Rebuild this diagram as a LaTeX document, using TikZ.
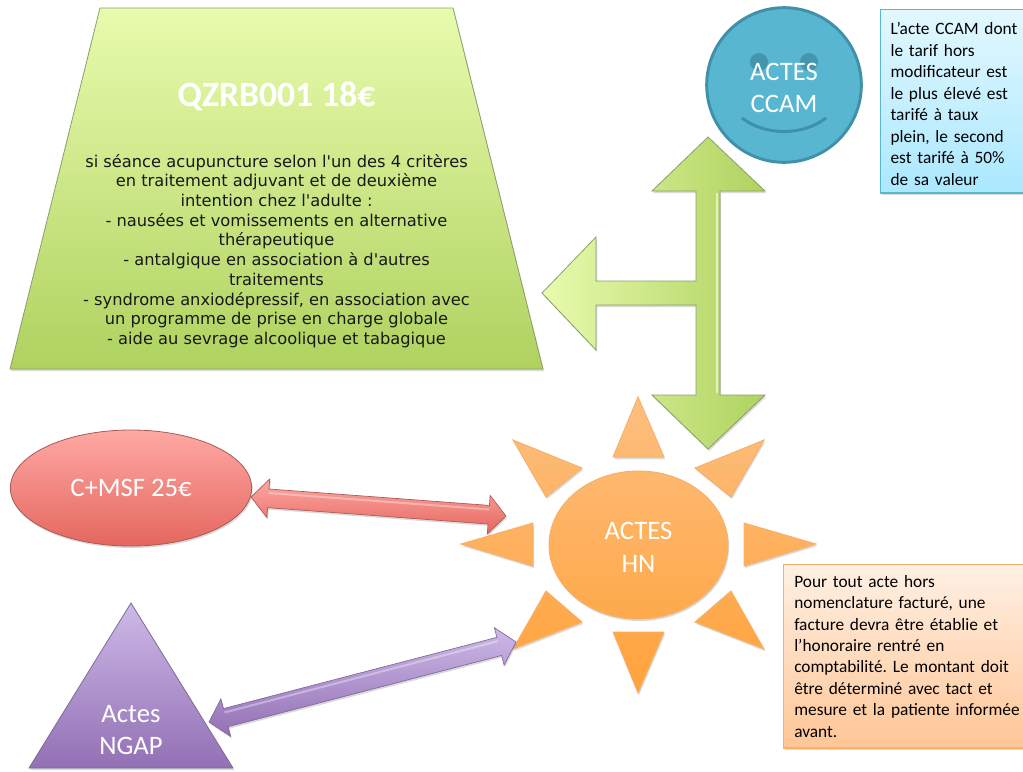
\documentclass[tikz,border=0pt]{standalone}
\usepackage{fontspec}
\setmainfont{Carlito}
\newfontfamily\verd{DejaVu Sans}
\usetikzlibrary{calc,shapes.geometric,shadows}
\definecolor{greentop}{HTML}{E8FBAE}
\definecolor{greenbot}{HTML}{AFD25F}
\definecolor{greenline}{HTML}{8A9E6A}
\definecolor{bluefill}{HTML}{58B6D1}
\definecolor{blueline}{HTML}{3F90A8}
\definecolor{notebluetop}{HTML}{E2F8FF}
\definecolor{notebluebot}{HTML}{ABE8FF}
\definecolor{suntop}{HTML}{FDBF80}
\definecolor{sunbot}{HTML}{FFA23A}
\definecolor{sunline}{HTML}{F7B06A}
\definecolor{noteorangetop}{HTML}{FFF0E4}
\definecolor{noteorangebot}{HTML}{FFC696}
\definecolor{redtop}{HTML}{FFA8A4}
\definecolor{redbot}{HTML}{E4675E}
\definecolor{redline}{HTML}{A85A55}
\definecolor{purpletop}{HTML}{CDB9E7}
\definecolor{purplebot}{HTML}{9370B5}
\definecolor{purpleline}{HTML}{7D6A98}
% double block arrow between two named points
\newcommand{\dblarrow}[3]{%
\path[#1] (#2) -- ($(#2)!13pt!(#3)!14.5pt!90:(#3)$) -- ($(#2)!13pt!(#3)!7pt!90:(#3)$)
  -- ($(#3)!13pt!(#2)!7pt!-90:(#2)$) -- ($(#3)!13pt!(#2)!14.5pt!-90:(#2)$) -- (#3)
  -- ($(#3)!13pt!(#2)!14.5pt!90:(#2)$) -- ($(#3)!13pt!(#2)!7pt!90:(#2)$)
  -- ($(#2)!13pt!(#3)!7pt!-90:(#3)$) -- ($(#2)!13pt!(#3)!14.5pt!-90:(#3)$) -- cycle;
\draw[white, opacity=0.35, line width=1.5pt] ($(#2)!13pt!(#3)!4pt!90:(#3)$) -- ($(#3)!13pt!(#2)!4pt!-90:(#2)$);}
\begin{document}
\begin{tikzpicture}[x=0.75pt,y=-0.75pt]
\frenchspacing
\tikzstyle{softshadow} = [drop shadow={shadow xshift=0.8pt,shadow yshift=-1.5pt,opacity=0.3}]
\tikzstyle{shapetext} = [text=white, align=center, font=\fontsize{20}{24.6}\selectfont, inner sep=0pt] % white labels
\tikzstyle{notebox} = [rectangle, anchor=north west, align=left, line width=0.9pt, softshadow, inner xsep=7.5pt, inner ysep=0pt, font=\fontsize{13}{16.1}\selectfont, minimum height=137.5pt] % side notes
\tikzstyle{greenbody} = [softshadow, draw=greenline, line width=0.6pt]
\clip (0,0) rectangle (1023,771);

% green trapezoid
\path[greenbody, top color=greentop, bottom color=greenbot] (100,8) -- (453,8) -- (543,369) -- (10,369) -- cycle;
\node[text=white, font=\fontsize{26.7}{30}\bfseries\selectfont] (qzrb) at (276.5,96) {QZRB001 18€};
\node[align=center, font=\verd\fontsize{12.2}{14.8}\selectfont, text=black!90] (seance) at (276.5,251) {si séance acupuncture selon l'un des 4 critères\\
en traitement adjuvant et de deuxième\\
intention chez l'adulte :\\
- nausées et vomissements en alternative\\
thérapeutique\\
- antalgique en association à d'autres\\
traitements\\
- syndrome anxiodépressif, en association avec\\
un programme de prise en charge globale\\
- aide au sevrage alcoolique et tabagique};

% three-way green arrow
\path[greenbody, left color=greentop, right color=greenbot] (708,137) -- (765,191) -- (720,191) -- (720,395) -- (765,395) -- (708,449)
  -- (652,395) -- (696,395) -- (696,305) -- (596,305) -- (596,350) -- (542,293) -- (596,237) -- (596,281) -- (696,281) -- (696,191) -- (652,191) -- cycle;
\draw[white, opacity=0.6, line width=1.5pt] (717,193) -- (717,393); % bevel

% CCAM face
\node[circle, draw=blueline, line width=2.2pt, fill=bluefill, minimum size=116pt] (ccam) at (784,85) {};
\fill[blueline!85!bluefill] (759,62) circle (9) (809,62) circle (9);
\draw[blueline, line width=2.2pt] (742,118) .. controls (765,136) and (803,136) .. (826,118);
\node[shapetext] (ccamtext) at (784,88) {ACTES\\CCAM};

\node[notebox, draw=bluefill, top color=notebluetop, bottom color=notebluebot, text width=150pt] (noteccam) at (880,9) {\rule{0pt}{13pt}L’acte CCAM dont\\
le tarif hors\\
modificateur est\\
le plus élevé est\\
tarifé à taux\\
plein, le second\\
est tarifé à 50\%\\
de sa valeur};

% sun
\path[softshadow, draw=sunline, line width=0.7pt, top color=suntop, bottom color=sunbot]
  (638.5,545) ellipse [x radius=89.5, y radius=74]
  (638,397) -- (664,457) -- (613,457) -- cycle
  (513,440) -- (582,468) -- (546,497) -- cycle
  (764,440) -- (731,497) -- (695,468) -- cycle
  (461,544) -- (533,523) -- (533,566) -- cycle
  (816,544) -- (744,566) -- (744,523) -- cycle
  (513,649) -- (546,591) -- (582,622) -- cycle
  (764,649) -- (695,622) -- (731,591) -- cycle
  (638,693) -- (613,632) -- (664,632) -- cycle;
\node[shapetext] (hn) at (638.5,547) {ACTES\\HN};

\node[notebox, draw=sunline, top color=noteorangetop, bottom color=noteorangebot, inner xsep=8pt, text width=180pt] (notehn) at (783,564) {Pour tout acte hors\\
nomenclature facturé, une\\
facture devra être établie et\\
l’honoraire rentré en\\
comptabilité. Le montant doit\\
être déterminé avec tact et\\
mesure et la patiente informée\\
avant.};

% red ellipse
\node[ellipse, draw=redline, line width=0.6pt, softshadow, top color=redtop, bottom color=redbot, minimum width=181pt, minimum height=87pt, text=white, font=\fontsize{20}{24.6}\selectfont] (msf) at (131,488) {C+MSF 25€};
\coordinate (redleft) at (251,497);
\coordinate (redright) at (506,516);
\dblarrow{softshadow, draw=redline, line width=0.5pt, top color=redtop, bottom color=redbot}{redleft}{redright}

% purple triangle
\path[softshadow, draw=purpleline, line width=0.6pt, top color=purpletop, bottom color=purplebot] (131,603) -- (233,768) -- (29,768) -- cycle;
\node[shapetext] (ngap) at (131,730) {Actes\\NGAP};
\coordinate (purpleleft) at (209,722);
\coordinate (purpleright) at (516,642);
\dblarrow{softshadow, draw=purpleline, line width=0.5pt, top color=purpletop, bottom color=purplebot}{purpleleft}{purpleright}
\end{tikzpicture}
\end{document}
